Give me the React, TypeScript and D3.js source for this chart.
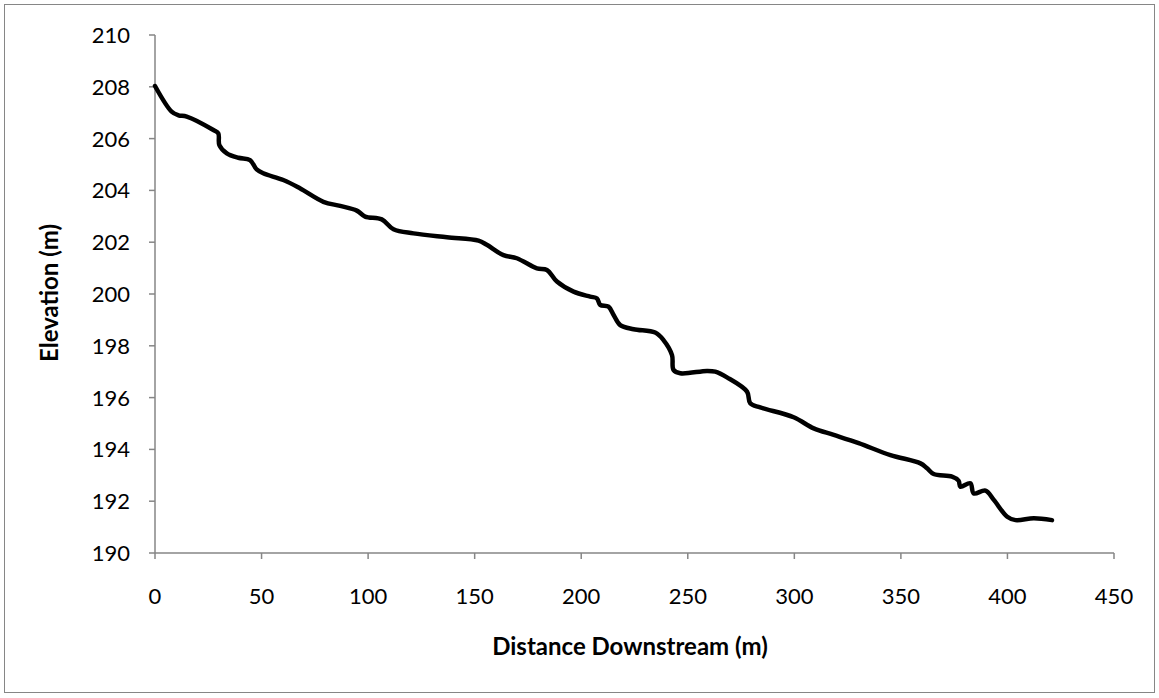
import React from "react";
import * as d3 from "d3";

// Longitudinal profile of the stream bed
const distance = [
  0, 7.8, 11, 14.9, 27.4, 29.7, 30.2, 33.7, 39.1, 44.6, 47.7, 50.8, 60.2, 68, 79,
  86.9, 94.7, 98.6, 106.4, 111.9, 121.3, 137, 151.8, 155.7, 163.5, 169.8, 179.2,
  183.9, 188.6, 196.4, 204.2, 207.4, 208.9, 212.8, 215.2, 218.3, 224.6, 234.7,
  238.6, 242.6, 243.3, 246.5, 259, 262.9, 268.4, 277.8, 279.3, 284, 299.7, 309.1,
  318.5, 330.2, 345.1, 359.2, 362.3, 365.4, 374, 377.1, 377.9, 382.6, 384.2,
  389.7, 393.6, 399.9, 403.8, 412.4, 420.9,
];
const elevation = [
  208.03, 207.04, 206.9, 206.85, 206.33, 206.2, 205.75, 205.43, 205.26, 205.17,
  204.81, 204.66, 204.4, 204.08, 203.56, 203.4, 203.22, 202.99, 202.88, 202.5,
  202.34, 202.19, 202.06, 201.9, 201.5, 201.38, 200.99, 200.93, 200.48, 200.09,
  199.9, 199.83, 199.58, 199.51, 199.19, 198.8, 198.64, 198.51, 198.22, 197.64,
  197.07, 196.94, 197.03, 197.0, 196.78, 196.23, 195.78, 195.62, 195.24, 194.81,
  194.56, 194.24, 193.78, 193.46, 193.27, 193.05, 192.95, 192.79, 192.56, 192.69,
  192.3, 192.41, 192.05, 191.4, 191.27, 191.34, 191.27,
];
const xTicks = [0, 50, 100, 150, 200, 250, 300, 350, 400, 450];
const yTicks = [190, 192, 194, 196, 198, 200, 202, 204, 206, 208, 210];

const W = 1159;
const H = 698;
const plot = { left: 155, right: 1114, top: 35, bottom: 553 };
const font = "Lato, 'Open Sans', sans-serif";
const axisColor = "#868686";

export default function App() {
  const x = d3.scaleLinear().domain([0, 450]).range([plot.left, plot.right]);
  const y = d3.scaleLinear().domain([190, 210]).range([plot.bottom, plot.top]);
  const pts: [number, number][] = distance.map((d, i) => [d, elevation[i]]);
  const line = d3
    .line<[number, number]>()
    .x((d) => x(d[0]))
    .y((d) => y(d[1]))
    .curve(d3.curveCatmullRom.alpha(0.5));

  return (
    <svg
      width={W}
      height={H}
      style={{ position: "absolute", left: 0, top: 0, background: "#fff" }}
      fontFamily={font}
    >
      <rect x={4.5} y={4.5} width={1150} height={688} fill="#fff" stroke={axisColor} strokeWidth={1} />

      {/* y axis */}
      <line x1={plot.left} x2={plot.left} y1={plot.top} y2={plot.bottom} stroke={axisColor} strokeWidth={1.5} />
      {yTicks.map((t) => (
        <g key={"y" + t}>
          <line x1={plot.left - 6} x2={plot.left} y1={y(t)} y2={y(t)} stroke={axisColor} strokeWidth={1.5} />
          <text x={130} y={y(t)} dy="0.36em" textAnchor="end" fontSize={22} fill="#000">
            {t}
          </text>
        </g>
      ))}

      {/* x axis */}
      <line x1={plot.left} x2={plot.right} y1={plot.bottom} y2={plot.bottom} stroke={axisColor} strokeWidth={1.5} />
      {xTicks.map((t) => (
        <g key={"x" + t}>
          <line x1={x(t)} x2={x(t)} y1={plot.bottom} y2={plot.bottom + 6} stroke={axisColor} strokeWidth={1.5} />
          <text x={x(t)} y={604} textAnchor="middle" fontSize={22} fill="#000">
            {t}
          </text>
        </g>
      ))}

      <path d={line(pts) ?? ""} fill="none" stroke="#000" strokeWidth={4.5} strokeLinejoin="round" strokeLinecap="round" />

      <text x={630} y={655} textAnchor="middle" fontSize={24} fontWeight="bold" fill="#000">
        Distance Downstream (m)
      </text>
      <text
        transform={`translate(58,293) rotate(-90)`}
        textAnchor="middle"
        fontSize={24}
        fontWeight="bold"
        fill="#000"
      >
        Elevation (m)
      </text>
    </svg>
  );
}
